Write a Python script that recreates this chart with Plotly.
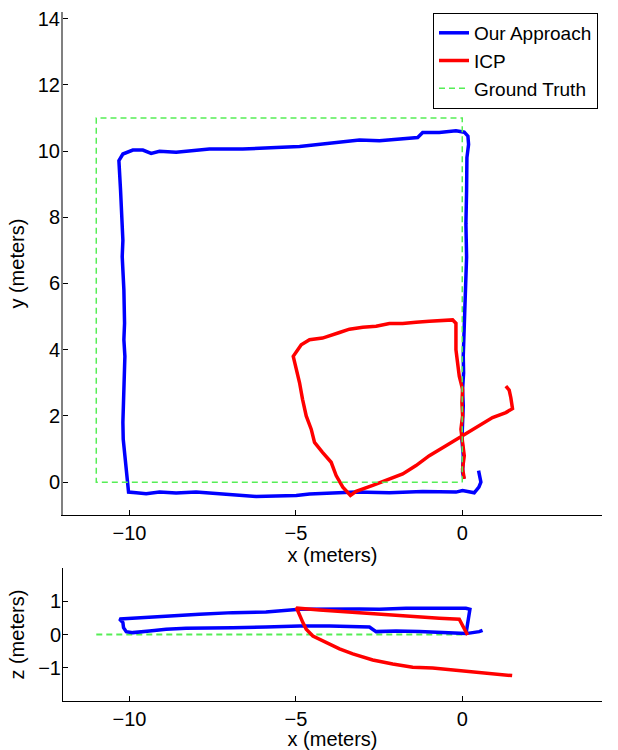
import plotly.graph_objects as go

# ---------------- data: top panel (x vs y, meters) ----------------
ours_xy_x = [0.05, 0.01, 0.03, -0.01, 0.01, 0.03, 0.01, 0.04, 0.03, 0.06, 0.09, 0.11, 0.13, 0.12,
             0.11, 0.13, 0.14, 0.19, 0.17, 0.06,
             -0.19, -0.69, -1.19, -1.34, -1.89, -2.49, -3.09, -3.69, -4.29, -4.89,
             -5.59, -6.6, -7.6, -8.1, -8.6, -9.1, -9.35, -9.6, -9.9, -10.2, -10.32,
             -10.27, -10.24, -10.22, -10.2, -10.22, -10.17, -10.15, -10.17, -10.14, -10.16,
             -10.18, -10.2, -10.19, -10.14, -10.08, -10.05, -10.03,
             -9.8, -9.5, -9.1, -8.6, -8.0, -7.4, -6.8, -6.2, -5.6, -4.99, -4.59, -4.2,
             -3.19, -2.19, -1.19, -0.19, 0.01, 0.36, 0.5, 0.56, 0.49]
ours_xy_y = [0.1, 0.3, 0.81, 1.29, 1.8, 2.31, 2.8, 3.3, 3.81, 4.8, 5.3, 5.8, 6.8, 7.3,
             7.8, 8.8, 9.8, 10.2, 10.45, 10.57,
             10.61, 10.56, 10.56, 10.41, 10.36, 10.31, 10.33, 10.26, 10.21, 10.14,
             10.11, 10.06, 10.06, 10.01, 9.96, 9.99, 9.93, 10.03, 10.03, 9.91, 9.71,
             8.81, 8.3, 7.81, 7.3, 6.81, 5.8, 4.8, 4.3, 3.8, 3.3,
             2.8, 1.8, 1.3, 0.8, 0.0, -0.2, -0.3,
             -0.32, -0.35, -0.3, -0.33, -0.3, -0.35, -0.4, -0.43, -0.42, -0.4, -0.36, -0.35,
             -0.3, -0.32, -0.28, -0.3, -0.25, -0.32, -0.15, 0.0, 0.35]

icp_xy_x = [0.06, 0.01, 0.06, 0.01, -0.04, 0.01, -0.01, 0.01, -0.09, -0.14, -0.19, -0.19, -0.19,
            -0.29, -0.59, -0.99, -1.39, -1.79, -2.19, -2.59, -2.99, -3.39, -3.69, -4.2, -4.59,
            -4.84, -5.08, -4.98, -4.89, -4.8, -4.69, -4.54, -4.44, -4.2, -3.94, -3.79, -3.59,
            -3.36, -3.19, -2.69, -2.19, -1.79, -1.39, -0.99, -0.49, 0.01, 0.41, 0.91, 1.31,
            1.51, 1.46, 1.41, 1.31]
icp_xy_y = [0.1, 0.4, 0.8, 1.2, 1.6, 2.0, 2.4, 2.8, 3.2, 3.6, 4.0, 4.4, 4.8,
            4.9, 4.89, 4.86, 4.83, 4.79, 4.79, 4.71, 4.68, 4.62, 4.52, 4.35, 4.3,
            4.15, 3.8, 3.4, 3.0, 2.5, 2.0, 1.6, 1.2, 0.9, 0.6, 0.2, -0.15,
            -0.4, -0.28, -0.1, 0.1, 0.25, 0.5, 0.8, 1.1, 1.4, 1.65, 1.95, 2.1,
            2.22, 2.55, 2.78, 2.9]

gt_xy_x = [0, 0, -11, -11, 0]
gt_xy_y = [0, 11, 11, 0, 0]

# ---------------- data: bottom panel (x vs z, meters) ----------------
ours_xz_x = [0.11, 0.16, 0.23, 0.11, -0.49, -1.09, -1.69, -2.49, -3.09, -3.89, -4.89, -5.9,
             -6.9, -7.9, -8.9, -9.6, -10.3, -10.2, -10.18, -10.1,
             -9.9, -9.4, -8.9, -8.3, -7.6, -6.9, -5.9, -4.89, -3.99, -2.79, -2.59,
             -1.99, -1.29, -0.49, 0.11, 0.51, 0.61]
ours_xz_z = [0.01, 0.41, 0.76, 0.79, 0.8, 0.79, 0.79, 0.76, 0.77, 0.76, 0.76, 0.68,
             0.66, 0.61, 0.56, 0.51, 0.47, 0.36, 0.21, 0.09,
             0.06, 0.11, 0.16, 0.19, 0.19, 0.21, 0.23, 0.26, 0.26, 0.23, 0.09,
             0.11, 0.09, 0.06, 0.03, 0.09, 0.13]

icp_xz_x = [0.16, 0.06, -0.04, -0.09, -0.69, -1.49, -2.49, -3.49, -4.29, -4.99,
            -4.94, -4.79, -4.69, -4.49, -4.19, -3.69, -3.29, -2.69, -2.09, -1.49,
            -0.89, -0.29, 0.31, 0.91, 1.5]
icp_xz_z = [-0.01, 0.16, 0.36, 0.46, 0.49, 0.54, 0.61, 0.68, 0.74, 0.8,
            0.71, 0.36, 0.16, -0.04, -0.19, -0.43, -0.58, -0.76, -0.88, -0.98,
            -1.0, -1.06, -1.13, -1.18, -1.23]

gt_xz_x = [-11, 0]
gt_xz_z = [0, 0]

x_ticks = [-10, -5, 0]
y_ticks = [0, 2, 4, 6, 8, 10, 12, 14]
z_ticks = [-1, 0, 1]

BLUE = "#0000ff"
RED = "#ff0000"
GREEN = "#55ee55"
FONT = "Liberation Sans, Arial, sans-serif"

fig = go.Figure()
fig.add_trace(go.Scatter(x=ours_xy_x, y=ours_xy_y, mode="lines", name="Our Approach",
                         line=dict(color=BLUE, width=3.5), xaxis="x", yaxis="y"))
fig.add_trace(go.Scatter(x=icp_xy_x, y=icp_xy_y, mode="lines", name="ICP",
                         line=dict(color=RED, width=3.5), xaxis="x", yaxis="y"))
fig.add_trace(go.Scatter(x=gt_xy_x, y=gt_xy_y, mode="lines", name="Ground Truth",
                         line=dict(color=GREEN, width=1.5, dash="6px,4px"), xaxis="x", yaxis="y"))

fig.add_trace(go.Scatter(x=gt_xz_x, y=gt_xz_z, mode="lines", showlegend=False,
                         line=dict(color=GREEN, width=2, dash="6px,4px"), xaxis="x2", yaxis="y2"))
fig.add_trace(go.Scatter(x=ours_xz_x, y=ours_xz_z, mode="lines", showlegend=False,
                         line=dict(color=BLUE, width=3.5), xaxis="x2", yaxis="y2"))
fig.add_trace(go.Scatter(x=icp_xz_x, y=icp_xz_z, mode="lines", showlegend=False,
                         line=dict(color=RED, width=3.5), xaxis="x2", yaxis="y2"))

axis_common = dict(showgrid=False, zeroline=False, ticks="inside", ticklen=5,
                   tickcolor="black", showline=True, linecolor="black", linewidth=1,
                   tickfont=dict(size=20, color="black", family=FONT),
                   title_font=dict(size=20, color="black", family=FONT))

fig.update_layout(
    width=618, height=750,
    margin=dict(l=0, r=0, t=0, b=0),
    paper_bgcolor="white", plot_bgcolor="white",
    font=dict(family=FONT, size=20, color="black"),
    xaxis=dict(domain=[63/618, 602/618], range=[-12, 4.2], anchor="y",
               tickvals=x_ticks, title=dict(text="x (meters)", standoff=0), **axis_common),
    yaxis=dict(domain=[1 - 514/750, 1 - 8/750], range=[-1, 14.2], anchor="x",
               tickvals=y_ticks, ticklabelstandoff=-3,
               title=dict(text="y (meters)", standoff=8), **axis_common),
    xaxis2=dict(domain=[63/618, 602/618], range=[-12, 4.2], anchor="y2",
                tickvals=x_ticks, title=dict(text="x (meters)", standoff=0), **axis_common),
    yaxis2=dict(domain=[1 - 701/750, 1 - 567/750], range=[-2, 2], anchor="x2",
                tickvals=z_ticks, ticklabelstandoff=-3,
                title=dict(text="z (meters)", standoff=8), **axis_common),
    legend=dict(x=598/618, xanchor="right", y=1 - 9/750, yanchor="top",
                bgcolor="white", bordercolor="black", borderwidth=1,
                font=dict(size=19, family=FONT, color="black"),
                tracegroupgap=0, itemwidth=30),
    showlegend=True,
)
fig.update_yaxes(selector=dict(anchor="x"), linecolor="#808080", linewidth=2)

fig.write_html("out.html", config={"displayModeBar": False},
               post_script="document.body.style.margin='0';document.body.style.overflow='hidden';")
